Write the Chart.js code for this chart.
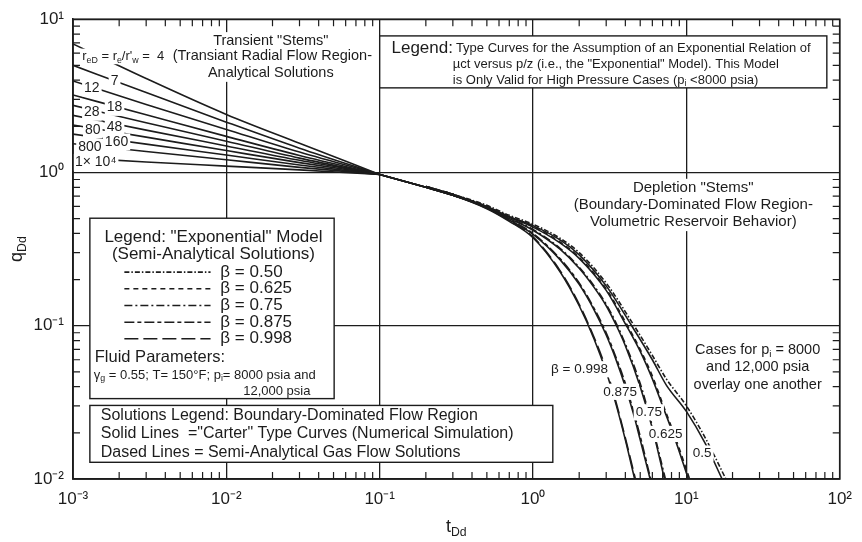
<!DOCTYPE html>
<html>
<head>
<meta charset="utf-8">
<script src="https://cdn.jsdelivr.net/npm/chart.js@4.4.1/dist/chart.umd.min.js"></script>
<style>
    html, body { margin: 0; padding: 0; background: #fff; }
    #zone { width: 862px; height: 542px; }
</style>
</head>
<body>
<div id="zone"><canvas id="graphique"></canvas></div>
<script>
const canvas = document.getElementById("graphique");

// Décades des axes et leurs étiquettes
const decadesT = [1e-3, 1e-2, 1e-1, 1, 10, 100];
const etiquettesT = ["10⁻³", "10⁻²", "10⁻¹", "10⁰", "10¹", "10²"];
const decadesQ = [1e-2, 1e-1, 1, 10];
const etiquettesQ = ["10⁻²", "10⁻¹", "10⁰", "10¹"];

// Tiges transitoires (r_eD = 4 ... 1e4)
const tTiges = [0.001, 0.003, 0.01, 0.03, 0.1];
const qTige4 = [6.9, 4.1, 2.39, 1.55, 0.97];
const qTige7 = [5.0, 3.32, 2.13, 1.44, 0.97];
const qTige12 = [3.95, 2.78, 1.91, 1.36, 0.97];
const qTige18 = [3.2, 2.38, 1.72, 1.29, 0.97];
const qTige28 = [2.74, 2.11, 1.60, 1.24, 0.97];
const qTige48 = [2.36, 1.89, 1.49, 1.20, 0.97];
const qTige80 = [2.04, 1.70, 1.39, 1.16, 0.97];
const qTige160 = [1.78, 1.53, 1.30, 1.12, 0.97];
const qTige800 = [1.54, 1.37, 1.21, 1.08, 0.97];
const qTige1e4 = [1.25, 1.17, 1.10, 1.04, 0.97];

// Tiges de déplétion "Carter" (traits pleins), beta = 0.50 ... 0.998
const betas = ["0.50", "0.625", "0.75", "0.875", "0.998"];
const tCarter05 = [0.1, 0.2, 0.3, 0.5, 0.7, 1, 1.5, 2, 3, 4.4, 6, 7.4, 10, 13.3, 17.1];
const qCarter05 = [0.97, 0.80, 0.71, 0.60, 0.515, 0.45, 0.363, 0.29, 0.182, 0.1, 0.06, 0.041, 0.0276, 0.017, 0.01];
const tCarter0625 = [0.1, 0.2, 0.3, 0.5, 0.7, 1, 1.5, 2, 3, 4, 5, 6, 7, 8.5, 10.3];
const qCarter0625 = [0.97, 0.80, 0.71, 0.595, 0.51, 0.44, 0.347, 0.275, 0.17, 0.103, 0.068, 0.045, 0.030, 0.0178, 0.01];
const tCarter075 = [0.1, 0.2, 0.3, 0.5, 0.7, 1, 1.5, 2, 2.5, 3, 3.5, 4, 5, 6, 7.2];
const qCarter075 = [0.97, 0.80, 0.71, 0.59, 0.50, 0.42, 0.316, 0.237, 0.178, 0.135, 0.1, 0.074, 0.040, 0.0214, 0.01];
const tCarter0875 = [0.1, 0.2, 0.3, 0.5, 0.7, 1, 1.5, 2, 2.5, 3, 3.5, 4, 4.5, 5, 5.8];
const qCarter0875 = [0.97, 0.80, 0.71, 0.585, 0.49, 0.395, 0.27, 0.186, 0.127, 0.087, 0.059, 0.040, 0.027, 0.018, 0.01];
const tCarter0998 = [0.1, 0.2, 0.3, 0.5, 0.7, 1, 1.5, 2, 2.5, 3, 3.5, 4, 4.6];
const qCarter0998 = [0.97, 0.80, 0.71, 0.58, 0.48, 0.375, 0.225, 0.135, 0.082, 0.05, 0.03, 0.018, 0.01];

// Solutions semi-analytiques (tiretés)
const tSemi05 = [0.2, 0.3, 0.5, 0.7, 1, 1.5, 2, 3, 4.4, 6, 7.4, 10, 13.3, 18.1];
const qSemi05 = [0.81, 0.72, 0.61, 0.525, 0.46, 0.372, 0.30, 0.19, 0.106, 0.064, 0.045, 0.030, 0.0185, 0.01];
const tSemi0625 = [0.2, 0.3, 0.5, 0.7, 1, 1.5, 2, 3, 4, 5, 6, 7, 8.5, 10.5];
const qSemi0625 = [0.81, 0.72, 0.60, 0.515, 0.445, 0.352, 0.279, 0.174, 0.106, 0.070, 0.047, 0.031, 0.0185, 0.01];
const tSemi075 = [0.2, 0.3, 0.5, 0.7, 1, 1.5, 2, 2.5, 3, 3.5, 4, 5, 6, 7.3];
const qSemi075 = [0.81, 0.72, 0.595, 0.505, 0.425, 0.32, 0.241, 0.182, 0.138, 0.103, 0.076, 0.042, 0.022, 0.01];
const tSemi0875 = [0.2, 0.3, 0.5, 0.7, 1, 1.5, 2, 2.5, 3, 3.5, 4, 4.5, 5, 5.85];
const qSemi0875 = [0.81, 0.72, 0.59, 0.495, 0.40, 0.274, 0.19, 0.13, 0.09, 0.061, 0.042, 0.028, 0.019, 0.01];
const tSemi0998 = [0.2, 0.3, 0.5, 0.7, 1, 1.5, 2, 2.5, 3, 3.5, 4, 4.65];
const qSemi0998 = [0.81, 0.72, 0.585, 0.485, 0.38, 0.229, 0.138, 0.084, 0.052, 0.031, 0.0185, 0.01];

const tiges = [qTige4, qTige7, qTige12, qTige18, qTige28, qTige48, qTige80, qTige160, qTige800, qTige1e4];
const carter = [[tCarter05, qCarter05], [tCarter0625, qCarter0625], [tCarter075, qCarter075], [tCarter0875, qCarter0875], [tCarter0998, qCarter0998]];
const semi = [[tSemi05, qSemi05], [tSemi0625, qSemi0625], [tSemi075, qSemi075], [tSemi0875, qSemi0875], [tSemi0998, qSemi0998]];

// Style des tiretés (même ordre que betas)
const tirets = [[5, 2, 1.5, 2], [5, 4], [8, 3, 2, 3], [10, 3, 4, 3], [14, 5]];

const NOIR = "#1c1c1c";
const FAMILLE = '"Liberation Sans", Arial, Helvetica, sans-serif';

// Cadres (en log10 des unités des axes)
const cadres = [
    { lx: [-1.0, 1.916], ly: [0.891, 0.552] },
    { lx: [-2.890, -1.297], ly: [-0.2985, -1.4755] },
    { lx: [-2.890, 0.129], ly: [-1.520, -1.891] },
];

// Textes : position en log10(t), log10(q)
const textes = [
    // légende du haut
    { texte: "Legend:", lx: -0.923, ly: 0.808, taille: 17 },
    { texte: "Type Curves for the Assumption of an Exponential Relation of", lx: -0.503, ly: 0.808, taille: 13 },
    { texte: 'µct versus p/z (i.e., the "Exponential" Model). This Model', lx: -0.523, ly: 0.706, taille: 13 },
    { texte: "is Only Valid for High Pressure Cases (p_{i} <8000 psia)", lx: -0.523, ly: 0.603, taille: 13 },
    // légende de gauche
    { texte: 'Legend: "Exponential" Model', lx: -2.084, ly: -0.420, taille: 17, align: "center" },
    { texte: "(Semi-Analytical Solutions)", lx: -2.084, ly: -0.535, taille: 17, align: "center" },
    { texte: "β = 0.50", lx: -2.039, ly: -0.650, taille: 17 },
    { texte: "β = 0.625", lx: -2.039, ly: -0.759, taille: 17 },
    { texte: "β = 0.75", lx: -2.039, ly: -0.868, taille: 17 },
    { texte: "β = 0.875", lx: -2.039, ly: -0.977, taille: 17 },
    { texte: "β = 0.998", lx: -2.039, ly: -1.085, taille: 17 },
    { texte: "Fluid Parameters:", lx: -2.858, ly: -1.207, taille: 16.5 },
    { texte: "γ_{g} = 0.55; T= 150°F; p_{i}= 8000 psia and", lx: -2.865, ly: -1.322, taille: 13 },
    { texte: "12,000 psia", lx: -1.890, ly: -1.431, taille: 13 },
    // légende des solutions
    { texte: "Solutions Legend: Boundary-Dominated Flow Region", lx: -2.819, ly: -1.584, taille: 16 },
    { texte: 'Solid Lines  ="Carter" Type Curves (Numerical Simulation)', lx: -2.819, ly: -1.706, taille: 16 },
    { texte: "Dased Lines = Semi-Analytical Gas Flow Solutions", lx: -2.819, ly: -1.827, taille: 16 },
    // blocs libres sur fond blanc
    { texte: 'Transient "Stems"', lx: -1.71, ly: 0.859, taille: 14.5, align: "center", fond: true },
    { texte: "(Transiant Radial Flow Region-", lx: -1.70, ly: 0.757, taille: 14.5, align: "center", fond: true },
    { texte: "Analytical Solutions", lx: -1.71, ly: 0.648, taille: 14.5, align: "center", fond: true },
    { texte: "r_{eD} = r_{e}/r'_{w} =  4", lx: -2.94, ly: 0.757, taille: 13, fond: true },
    { texte: "7", lx: -2.729, ly: 0.597, taille: 14, align: "center", fond: true },
    { texte: "12", lx: -2.877, ly: 0.552, taille: 14, align: "center", fond: true },
    { texte: "18", lx: -2.729, ly: 0.424, taille: 14, align: "center", fond: true },
    { texte: "28", lx: -2.877, ly: 0.392, taille: 14, align: "center", fond: true },
    { texte: "48", lx: -2.729, ly: 0.296, taille: 14, align: "center", fond: true },
    { texte: "80", lx: -2.871, ly: 0.277, taille: 14, align: "center", fond: true },
    { texte: "160", lx: -2.716, ly: 0.200, taille: 14, align: "center", fond: true },
    { texte: "800", lx: -2.890, ly: 0.162, taille: 14, align: "center", fond: true },
    { texte: "1× 10⁴", lx: -2.852, ly: 0.066, taille: 14, align: "center", fond: true },
    { texte: 'Depletion "Stems"', lx: 1.045, ly: -0.100, taille: 15, align: "center", fond: true },
    { texte: "(Boundary-Dominated Flow Region-", lx: 1.045, ly: -0.209, taille: 15, align: "center", fond: true },
    { texte: "Volumetric Reservoir Behavior)", lx: 1.045, ly: -0.324, taille: 15, align: "center", fond: true },
    { texte: "Cases for p_{i} = 8000", lx: 1.465, ly: -1.156, taille: 14.5, align: "center", fond: true },
    { texte: "and 12,000 psia", lx: 1.465, ly: -1.271, taille: 14.5, align: "center", fond: true },
    { texte: "overlay one another", lx: 1.465, ly: -1.386, taille: 14.5, align: "center", fond: true },
    { texte: "β = 0.998", lx: 0.303, ly: -1.284, taille: 13.5, align: "center", fond: true },
    { texte: "0.875", lx: 0.568, ly: -1.431, taille: 13.5, align: "center", fond: true },
    { texte: "0.75", lx: 0.755, ly: -1.565, taille: 13.5, align: "center", fond: true },
    { texte: "0.625", lx: 0.865, ly: -1.706, taille: 13.5, align: "center", fond: true },
    { texte: "0.5", lx: 1.103, ly: -1.834, taille: 13.5, align: "center", fond: true },
];
const lignesLegende = { lx: [-2.665, -2.103], ly: [-0.650, -0.759, -0.868, -0.977, -1.085] };

function police(taille) {
    return taille + "px " + FAMILLE;
}

function decouper(texte) {
    // "p_{i}" -> morceaux normal / indice
    const morceaux = [];
    const re = /_\{([^}]*)\}/g;
    let dernier = 0, m;
    while ((m = re.exec(texte)) !== null) {
        if (m.index > dernier) morceaux.push({ t: texte.slice(dernier, m.index) });
        morceaux.push({ t: m[1], sub: true });
        dernier = re.lastIndex;
    }
    if (dernier < texte.length) morceaux.push({ t: texte.slice(dernier) });
    return morceaux;
}

function largeurTexte(ctx, texte, taille) {
    let w = 0;
    for (const m of decouper(texte)) {
        ctx.font = police(m.sub ? taille * 0.68 : taille);
        w += ctx.measureText(m.t).width;
    }
    return w;
}

function ecrireTexte(ctx, texte, x, y, taille, align) {
    const w = largeurTexte(ctx, texte, taille);
    let cx = align === "center" ? x - w / 2 : x;
    ctx.textAlign = "left";
    ctx.textBaseline = "middle";
    ctx.fillStyle = NOIR;
    for (const m of decouper(texte)) {
        ctx.font = police(m.sub ? taille * 0.68 : taille);
        ctx.fillText(m.t, cx, m.sub ? y + taille * 0.3 : y);
        cx += ctx.measureText(m.t).width;
    }
}

function estDecade(v) {
    if (!v) return false;
    const l = Math.log10(v);
    return Math.abs(l - Math.round(l)) < 1e-6;
}

function etiquetteDecade(v, decades, etiquettes) {
    const i = decades.findIndex(d => Math.abs(Math.log10(v) - Math.log10(d)) < 1e-6);
    return i >= 0 ? etiquettes[i] : "";
}

function points(ts, qs) {
    return ts.map((t, i) => ({ x: t, y: qs[i] }));
}

const habillage = {
    id: "habillage",
    afterDraw(chart) {
        const { ctx, chartArea: a, scales } = chart;
        const px = lx => scales.x.getPixelForValue(Math.pow(10, lx));
        const py = ly => scales.y.getPixelForValue(Math.pow(10, ly));
        ctx.save();

        // cadres
        for (const c of cadres) {
            const x0 = px(c.lx[0]), x1 = px(c.lx[1]), y0 = py(c.ly[0]), y1 = py(c.ly[1]);
            ctx.fillStyle = "#fff";
            ctx.fillRect(x0, y0, x1 - x0, y1 - y0);
            ctx.strokeStyle = NOIR;
            ctx.lineWidth = 1.4;
            ctx.strokeRect(x0, y0, x1 - x0, y1 - y0);
        }

        // fonds blancs puis textes
        for (const e of textes) {
            if (!e.fond) continue;
            const w = largeurTexte(ctx, e.texte, e.taille);
            const x = px(e.lx), y = py(e.ly);
            const x0 = e.align === "center" ? x - w / 2 : x;
            ctx.fillStyle = "#fff";
            ctx.fillRect(x0 - 2, y - e.taille * 0.6, w + 4, e.taille * 1.2);
        }
        for (const e of textes) {
            ecrireTexte(ctx, e.texte, px(e.lx), py(e.ly), e.taille, e.align);
        }

        // échantillons de tiretés dans la légende
        ctx.strokeStyle = NOIR;
        ctx.lineWidth = 1.6;
        lignesLegende.ly.forEach((ly, i) => {
            ctx.setLineDash(tirets[i]);
            ctx.beginPath();
            ctx.moveTo(px(lignesLegende.lx[0]), py(ly));
            ctx.lineTo(px(lignesLegende.lx[1]), py(ly));
            ctx.stroke();
        });
        ctx.setLineDash([]);

        // petites graduations intérieures sur les quatre côtés
        ctx.lineWidth = 1.2;
        ctx.beginPath();
        for (let e = -3; e < 2; e++) {
            for (let k = 2; k <= 9; k++) {
                const X = scales.x.getPixelForValue(k * Math.pow(10, e));
                ctx.moveTo(X, a.bottom); ctx.lineTo(X, a.bottom - 7);
                ctx.moveTo(X, a.top); ctx.lineTo(X, a.top + 7);
            }
        }
        for (let e = -2; e < 1; e++) {
            for (let k = 2; k <= 9; k++) {
                const Y = scales.y.getPixelForValue(k * Math.pow(10, e));
                ctx.moveTo(a.left, Y); ctx.lineTo(a.left + 7, Y);
                ctx.moveTo(a.right, Y); ctx.lineTo(a.right - 7, Y);
            }
        }
        ctx.stroke();

        // cadre du graphique
        ctx.lineWidth = 1.6;
        ctx.strokeRect(a.left, a.top, a.right - a.left, a.bottom - a.top);

        // titres des axes (avec indices)
        ecrireTexte(ctx, "t_{Dd}", (a.left + a.right) / 2, 527, 18, "center");
        ctx.translate(17, (a.top + a.bottom) / 2);
        ctx.rotate(-Math.PI / 2);
        ecrireTexte(ctx, "q_{Dd}", 0, 0, 18, "center");
        ctx.restore();
    }
};

const jeux = [];
tiges.forEach(q => {
    jeux.push({ data: points(tTiges, q), borderColor: NOIR, borderWidth: 1.6 });
});
carter.forEach(([t, q]) => {
    jeux.push({ data: points(t, q), borderColor: NOIR, borderWidth: 1.6 });
});
semi.forEach(([t, q], i) => {
    jeux.push({ data: points(t, q), borderColor: NOIR, borderWidth: 1.6, borderDash: tirets[i] });
});

const grille = {
    color: c => estDecade(c.tick && c.tick.value) ? NOIR : "rgba(0,0,0,0)",
    lineWidth: 1.3,
    drawTicks: false,
};
const policeGraduations = { family: FAMILLE, size: 17 };

new Chart(canvas.getContext("2d"), {
    type: "line",
    data: { datasets: jeux },
    options: {
        responsive: true,
        maintainAspectRatio: false,
        animation: false,
        layout: { padding: { top: 10, right: 14, left: 0, bottom: 0 } },
        elements: {
            point: { radius: 0 },
            line: { cubicInterpolationMode: "monotone", fill: false },
        },
        plugins: { legend: { display: false }, tooltip: { enabled: false } },
        scales: {
            x: {
                type: "logarithmic",
                min: 1e-3,
                max: 100,
                grid: grille,
                border: { display: true, color: NOIR, width: 1.5 },
                ticks: {
                    autoSkip: false,
                    maxRotation: 0,
                    padding: 10,
                    color: NOIR,
                    font: policeGraduations,
                    callback: v => etiquetteDecade(v, decadesT, etiquettesT),
                },
                afterFit: s => { s.height = 63; },
            },
            y: {
                type: "logarithmic",
                min: 1e-2,
                max: 10,
                grid: grille,
                border: { display: true, color: NOIR, width: 1.5 },
                ticks: {
                    autoSkip: false,
                    padding: 9,
                    color: NOIR,
                    font: policeGraduations,
                    callback: v => etiquetteDecade(v, decadesQ, etiquettesQ),
                },
                afterFit: s => { s.width = 73; },
            },
        },
    },
    plugins: [habillage],
});
</script>
</body>
</html>
